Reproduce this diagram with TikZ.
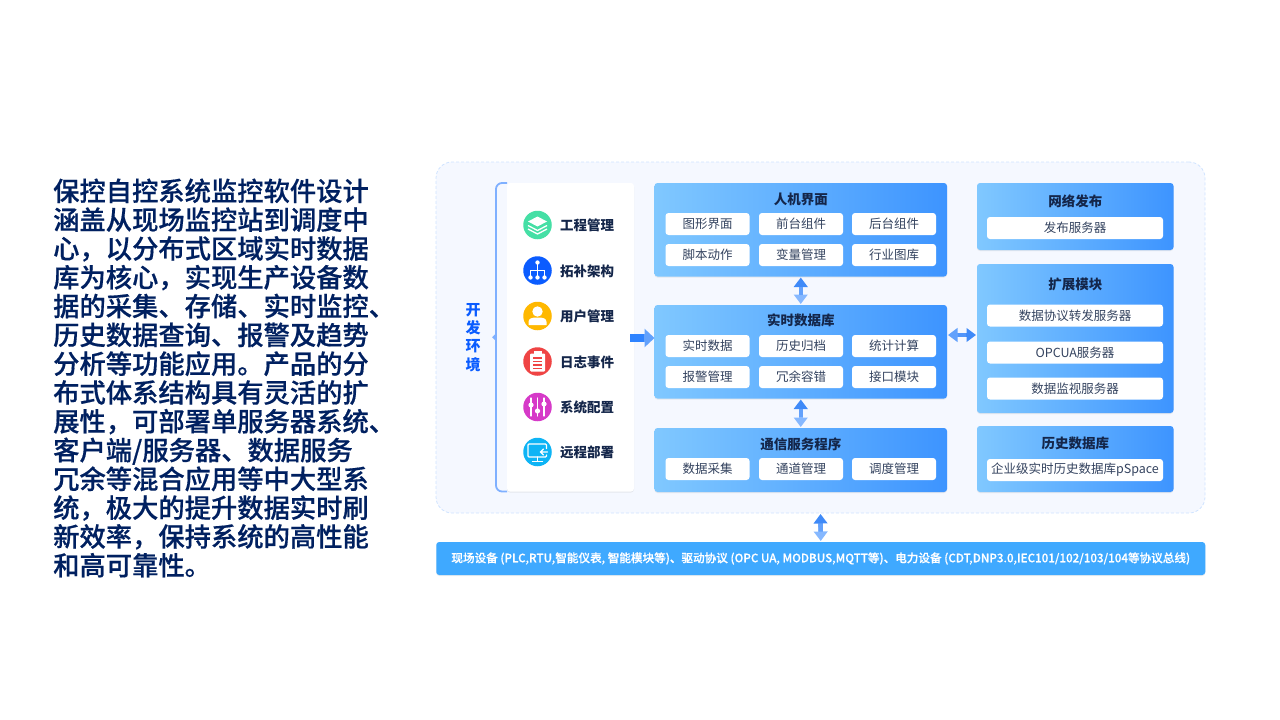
\documentclass[tikz,border=0pt]{standalone}
\usepackage{fontspec}
\setmainfont{Noto Sans CJK SC}[Script=CJK,Language=Chinese Simplified]
\newfontfamily\mediumcjk{Noto Sans CJK SC Medium}[Script=CJK,Language=Chinese Simplified,FakeBold=0.5]
\usetikzlibrary{arrows.meta,calc,shadows}
\definecolor{navy}{HTML}{002060}
\definecolor{ink}{HTML}{14264A}
\definecolor{chipink}{HTML}{34435F}
\definecolor{panelbg}{HTML}{F5F8FF}
\definecolor{paneledge}{HTML}{CFE3FF}
\definecolor{blockl}{HTML}{80C8FF}
\definecolor{blockr}{HTML}{3D94FF}
\definecolor{linkdark}{HTML}{3F8AF8}
\definecolor{linkmid}{HTML}{62A1FC}
\definecolor{linklight}{HTML}{86B8FF}
\definecolor{barblue}{HTML}{3FA9FF}
\definecolor{devblue}{HTML}{0A5CFF}
\definecolor{bracketblue}{HTML}{7FB0FF}
\definecolor{projdisc}{HTML}{45DFA5}
\definecolor{topodisc}{HTML}{0B5CFF}
\definecolor{userdisc}{HTML}{FFB800}
\definecolor{logsdisc}{HTML}{EF4444}
\definecolor{confdisc}{HTML}{D63AC8}
\definecolor{depldisc}{HTML}{0EB4F5}
\tikzset{
  softshadow/.style={drop shadow={opacity=.14,shadow xshift=0pt,shadow yshift=-1pt}},
  block/.style={rectangle,rounded corners=3pt,left color=blockl,right color=blockr,inner sep=0pt,outer sep=0pt,softshadow},
  chip/.style={rectangle,rounded corners=3pt,fill=white,inner sep=0pt,outer sep=0pt,text=chipink,minimum height=22pt,font=\fontsize{12.5}{14}\selectfont},
  narrowchip/.style={chip,minimum width=84pt},
  widechip/.style={chip,minimum width=176pt},
  blocktitle/.style={inner sep=0pt,text=ink,font=\fontsize{13.5}{15}\selectfont\bfseries},
  icondisc/.style={circle,minimum size=28.5pt,inner sep=0pt,outer sep=0pt},
  iconlabel/.style={anchor=west,inner sep=0pt,text=ink,font=\fontsize{13.5}{15}\selectfont\bfseries},
  glyph/.style={draw=white,line width=1.3pt,line cap=round},
  linktip/.style={line width=4.4pt,shorten >=1pt,-{Triangle[width=13.5pt,length=9.5pt]}}
}
% two-way connector, one half per direction, blended in the middle
\newcommand{\duplex}[4]{
  \coordinate (mid) at ($(#1)!.5!(#2)$);
  \draw[linktip,draw=#3,fill=#3] (mid) -- (#1);
  \draw[linktip,draw=#4,fill=#4] (mid) -- (#2);
  \draw[line width=4.4pt,draw=#3!50!#4] ($(#1)!.36!(#2)$) -- ($(#1)!.64!(#2)$);
}
\begin{document}
\begin{tikzpicture}[x=1pt,y=-1pt]
  \useasboundingbox (0,0) rectangle (1280,720);
  % text on the left
  \node[anchor=west,align=left,inner sep=0pt,text=navy,font=\fontsize{26.3}{28.8}\selectfont\mediumcjk] (intro) at (53,378) {保控自控系统监控软件设计\\涵盖从现场监控站到调度中\\心，以分布式区域实时数据\\库为核心，实现生产设备数\\据的采集、存储、实时监控、\\历史数据查询、报警及趋势\\分析等功能应用。产品的分\\布式体系结构具有灵活的扩\\展性，可部署单服务器系统、\\客户端/服务器、数据服务\\冗余等混合应用等中大型系\\统，极大的提升数据实时刷\\新效率，保持系统的高性能\\和高可靠性。};
  % panel
  \node[rectangle,rounded corners=16pt,fill=panelbg,draw=paneledge,densely dashed,line width=.8pt,minimum width=769pt,minimum height=351pt,inner sep=0pt,outer sep=0pt] (panel) at (820.5,337.5) {};
  % development environment
  \node[anchor=center,align=center,inner sep=0pt,text=devblue,font=\fontsize{15}{18.3}\selectfont\bfseries] (devlabel) at (473,337.5) {开\\发\\环\\境};
  \node[rectangle,rounded corners=3pt,fill=white,minimum width=127pt,minimum height=308.5pt,inner sep=0pt,outer sep=0pt,softshadow] (devlist) at (570.5,337.25) {};
  \draw[bracketblue,line width=1.8pt,rounded corners=6pt] (devlist.north west) -- ++(-11,0) -- ++(0,308.5) -- ++(11,0);
  \fill[bracketblue] ($(devlist.west)+(-11,-4)$) -- ++(-4,4) -- ++(4,4) -- cycle;
  \foreach \name/\y/\txt in {
    proj/225/工程管理,topo/270.5/拓补架构,user/316/用户管理,
    logs/361.5/日志事件,conf/407/系统配置,depl/452/远程部署}{
    \node[icondisc,fill=\name disc] (\name) at (537.5,\y) {};
    \node[iconlabel] (\name label) at (560,\y+.5) {\txt};
  }
  % icons
  \begin{scope}[shift={(proj)}]
    \fill[white] (0,-8.5) -- (9.5,-3.5) -- (0,1.5) -- (-9.5,-3.5) -- cycle;
    \draw[glyph,line cap=butt] (-9.5,0.5) -- (0,5.5) -- (9.5,0.5);
    \draw[glyph,line cap=butt] (-9.5,4) -- (0,9) -- (9.5,4);
  \end{scope}
  \begin{scope}[shift={(topo)}]
    \draw[glyph] (0,-8) -- (0,7) (-7,7) -- (-7,0) -- (7,0) -- (7,7);
    \foreach \dx/\dy in {0/-8,-7/7,0/7,7/7} \fill[white] (\dx,\dy) circle (2.2pt);
  \end{scope}
  \begin{scope}[shift={(user)}]
    \fill[white] (0,-4.5) circle (5.2pt);
    \fill[white] (-9,9) -- (-9,6) .. controls (-9,2.5) and (-6,1.5) .. (0,1.5) .. controls (6,1.5) and (9,2.5) .. (9,6) -- (9,9) -- cycle;
  \end{scope}
  \begin{scope}[shift={(logs)}]
    \fill[white,rounded corners=1pt] (-7.5,-8) rectangle (7.5,10);
    \fill[white] (-4,-10.5) rectangle (4,-7);
    \draw[logsdisc,line width=1.2pt] (-4.5,-3.5) -- (4.5,-3.5) (-4.5,0) -- (4.5,0) (-4.5,3.5) -- (4.5,3.5) (-4.5,7) -- (4.5,7);
  \end{scope}
  \begin{scope}[shift={(conf)}]
    \draw[glyph] (-6.5,-9) -- (-6.5,9) (0,-9) -- (0,9) (6.5,-9) -- (6.5,9);
    \foreach \dx/\dy in {-6.5/-2,0/4,6.5/-3} \fill[white] (\dx,\dy) circle (2.6pt);
  \end{scope}
  \begin{scope}[shift={(depl)}]
    \draw[glyph,rounded corners=1pt] (9,-3.5) -- (9,-8) -- (-9.5,-8) -- (-9.5,5) -- (9,5) -- (9,3);
    \draw[glyph] (0,5) -- (0,9) (-5,9.2) -- (5,9.2);
    \draw[glyph] (10,0) -- (3,0) (6,-3) -- (3,0) -- (6,3);
  \end{scope}
  % middle column
  \node[block,minimum width=292.5pt,minimum height=93.5pt] (hmi) at (800.75,229.75) {};
  \node[block,minimum width=292.5pt,minimum height=93.5pt] (rtdb) at (800.75,351.75) {};
  \node[block,minimum width=292.5pt,minimum height=64pt] (comm) at (800.75,460) {};
  \node[blocktitle] (hmi title) at (800.75,199) {人机界面};
  \node[blocktitle] (rtdb title) at (800.75,320.5) {实时数据库};
  \node[blocktitle] (comm title) at (800.75,444) {通信服务程序};
  \foreach \name/\x/\y/\txt in {
    hmia/707.5/224/图形界面,hmib/801/224/前台组件,hmic/894/224/后台组件,
    hmid/707.5/255/脚本动作,hmie/801/255/变量管理,hmif/894/255/行业图库,
    rtdba/707.5/346/实时数据,rtdbb/801/346/历史归档,rtdbc/894/346/统计计算,
    rtdbd/707.5/377/报警管理,rtdbe/801/377/冗余容错,rtdbf/894/377/接口模块,
    comma/707.5/469/数据采集,commb/801/469/通道管理,commc/894/469/调度管理}{
    \node[narrowchip] (\name) at (\x,\y) {\txt};
  }
  % right column
  \node[block,minimum width=196.5pt,minimum height=67pt] (webpub) at (1075.25,216.5) {};
  \node[block,minimum width=196.5pt,minimum height=149pt] (extmod) at (1075.25,338.5) {};
  \node[block,minimum width=196.5pt,minimum height=66pt] (hisdb) at (1075.25,459) {};
  \node[blocktitle] (webpub title) at (1075.25,201.5) {网络发布};
  \node[blocktitle] (extmod title) at (1075.25,284.5) {扩展模块};
  \node[blocktitle] (hisdb title) at (1075.25,443) {历史数据库};
  \foreach \name/\y/\txt in {
    webpuba/228/发布服务器,extmoda/315.5/数据协议转发服务器,extmodb/352.5/OPCUA服务器,
    extmodc/388.5/数据监视服务器,hisdba/470/企业级实时历史数据库pSpace}{
    \node[widechip] (\name) at (1075,\y) {\txt};
  }
  % field bus
  \node[rectangle,rounded corners=3pt,fill=barblue,minimum width=769pt,minimum height=33pt,inner sep=0pt,outer sep=0pt,softshadow,text=white,font=\fontsize{11.6}{13}\selectfont\mediumcjk] (fieldbus) at (820.75,558.5) {现场设备 (PLC,RTU,智能仪表, 智能模块等)、驱动协议 (OPC UA, MODBUS,MQTT等)、电力设备 (CDT,DNP3.0,IEC101/102/103/104等协议总线)};
  % connectors
  \duplex{hmi.south}{rtdb.north}{linkdark}{linklight}
  \duplex{rtdb.south}{comm.north}{linkdark}{linklight}
  \duplex{panel.south}{fieldbus.north}{linkdark}{linklight}
  \coordinate (linkleft) at (rtdb.east |- 0,335);
  \coordinate (linkright) at (extmod.west |- 0,335);
  \duplex{linkleft}{linkright}{linkmid}{linkdark}
  \coordinate (feedfrom) at (630,338);
  \coordinate (feedto) at (rtdb.west |- feedfrom);
  \draw[line width=8.5pt,draw=linkmid,shorten <=13pt,-{Triangle[width=18pt,length=10pt]}] (feedfrom) -- (feedto);
  \draw[line width=8.5pt,draw=blockr!70!devblue,shorten >=11pt] (feedfrom) -- (feedto);
\end{tikzpicture}
\end{document}
